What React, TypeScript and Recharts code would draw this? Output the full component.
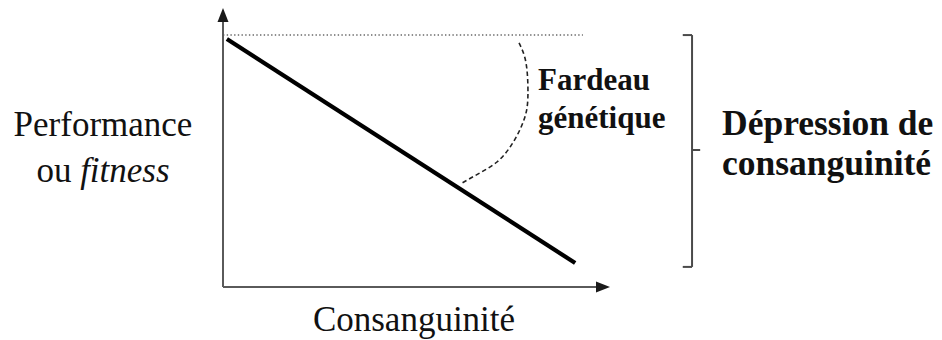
import React from 'react';
import { LineChart, Line, XAxis, YAxis, ReferenceLine, Customized } from 'recharts';

// Consanguinité (F, 0..1) vs performance / fitness (relative, 0..1)
const fitnessLine = [
  { x: 0.01, y: 0.889 },
  { x: 0.91, y: 0.086 },
];

// Dashed arc marking the genetic load ("Fardeau génétique")
const geneticLoadArc = [
  { x: 0.765, y: 0.875 },
  { x: 0.783, y: 0.803 },
  { x: 0.788, y: 0.695 },
  { x: 0.783, y: 0.624 },
  { x: 0.767, y: 0.563 },
  { x: 0.742, y: 0.502 },
  { x: 0.708, y: 0.448 },
  { x: 0.664, y: 0.409 },
  { x: 0.618, y: 0.373 },
];

// Reference fitness level without inbreeding (dotted line)
const referenceLevel = 0.903;
const referenceEnd = 0.93;

const yLabelLines = ['Performance', 'ou ', 'fitness'];
const xLabelText = 'Consanguinité';
const loadLabelLines = ['Fardeau', 'génétique'];
const depressionLabelLines = ['Dépression de', 'consanguinité'];

const FONT = '"Liberation Serif", "Times New Roman", serif';
const AXIS_COLOR = '#5a5a5a';
const BRACKET_COLOR = '#4a4a4a';

const ArrowShape = (props: any) => {
  const { x1, y1, x2, y2 } = props;
  const dx = x2 - x1;
  const dy = y2 - y1;
  const len = Math.hypot(dx, dy) || 1;
  const ux = dx / len;
  const uy = dy / len;
  const L = 14;
  const W = 5.5;
  const bx = x2 - ux * L;
  const by = y2 - uy * L;
  const px = -uy;
  const py = ux;
  return (
    <g>
      <line x1={x1} y1={y1} x2={bx + ux * 2} y2={by + uy * 2} stroke={AXIS_COLOR} strokeWidth={2} />
      <polygon
        points={`${x2},${y2} ${bx + px * W},${by + py * W} ${bx - px * W},${by - py * W}`}
        fill="#1a1a1a"
      />
    </g>
  );
};

const Labels = () => (
  <g fontFamily={FONT} fill="#111">
    <text x={103} y={136} fontSize={35} textAnchor="middle">
      {yLabelLines[0]}
    </text>
    <text x={103} y={182} fontSize={35} textAnchor="middle">
      {yLabelLines[1]}
      <tspan fontStyle="italic">{yLabelLines[2]}</tspan>
    </text>
    <text x={414} y={331} fontSize={35} textAnchor="middle">
      {xLabelText}
    </text>
    <text x={538} y={90} fontSize={31} fontWeight="bold">
      {loadLabelLines[0]}
    </text>
    <text x={538} y={128} fontSize={31} fontWeight="bold">
      {loadLabelLines[1]}
    </text>
    <text x={722} y={135} fontSize={35.5} fontWeight="bold">
      {depressionLabelLines[0]}
    </text>
    <text x={722} y={175} fontSize={35.5} fontWeight="bold">
      {depressionLabelLines[1]}
    </text>
  </g>
);

const bx = 1.212;
const bSerif = 1.188;
const bTick = 1.233;
const bTop = 0.903;
const bBottom = 0.072;
const bMid = 0.491;

export default function App() {
  return (
    <div style={{ position: 'absolute', left: 0, top: 0, width: 942, height: 340, background: '#fff' }}>
      <LineChart
        width={942}
        height={340}
        margin={{ top: 8, right: 332, bottom: 53, left: 223 }}
      >
        <XAxis dataKey="x" type="number" domain={[0, 1]} allowDataOverflow hide />
        <YAxis dataKey="y" type="number" domain={[0, 1]} allowDataOverflow hide />

        <ReferenceLine
          segment={[{ x: 0, y: referenceLevel }, { x: referenceEnd, y: referenceLevel }]}
          stroke="#6a6a6a"
          strokeWidth={1.6}
          strokeDasharray="1.4 2.3"
          ifOverflow="visible"
        />

        <ReferenceLine
          segment={[{ x: 0, y: 0 }, { x: 0, y: 1 }]}
          shape={ArrowShape}
          ifOverflow="visible"
        />
        <ReferenceLine
          segment={[{ x: 0, y: 0 }, { x: 1, y: 0 }]}
          shape={ArrowShape}
          ifOverflow="visible"
        />

        <Line
          data={fitnessLine}
          dataKey="y"
          type="linear"
          stroke="#000"
          strokeWidth={4.2}
          dot={false}
          activeDot={false}
          isAnimationActive={false}
        />
        <Line
          data={geneticLoadArc}
          dataKey="y"
          type="natural"
          stroke="#222"
          strokeWidth={1.6}
          strokeDasharray="4.5 3"
          dot={false}
          activeDot={false}
          isAnimationActive={false}
        />

        <ReferenceLine
          segment={[{ x: bSerif, y: bTop }, { x: bx, y: bTop }]}
          stroke={BRACKET_COLOR}
          strokeWidth={2}
          ifOverflow="visible"
        />
        <ReferenceLine
          segment={[{ x: bx, y: bTop }, { x: bx, y: bBottom }]}
          stroke={BRACKET_COLOR}
          strokeWidth={2}
          ifOverflow="visible"
        />
        <ReferenceLine
          segment={[{ x: bSerif, y: bBottom }, { x: bx, y: bBottom }]}
          stroke={BRACKET_COLOR}
          strokeWidth={2}
          ifOverflow="visible"
        />
        <ReferenceLine
          segment={[{ x: bx, y: bMid }, { x: bTick, y: bMid }]}
          stroke={BRACKET_COLOR}
          strokeWidth={2}
          ifOverflow="visible"
        />

        <Customized component={Labels} />
      </LineChart>
    </div>
  );
}
